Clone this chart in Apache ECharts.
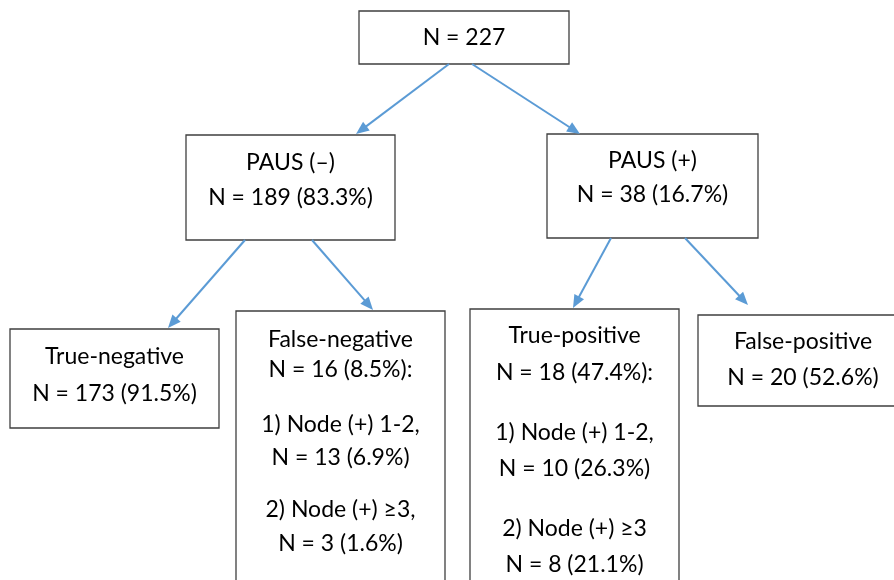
<!DOCTYPE html>
<html>
<head>
<meta charset="utf-8">
<script src="https://cdn.jsdelivr.net/npm/echarts@6/dist/echarts.min.js"></script>
<style>
html,body{margin:0;padding:0;background:#fff;}
#chart{width:894px;height:580px;}
</style>
</head>
<body>
<div id="chart"></div>
<script>
// ---- data (text content of each box) ----
const rootLines = ['N = 227'];
const pausNegLines = ['PAUS (–)', 'N = 189 (83.3%)'];
const pausPosLines = ['PAUS (+)', 'N = 38 (16.7%)'];
const trueNegLines = ['True-negative', 'N = 173 (91.5%)'];
const falseNegLines = ['False-negative', 'N = 16 (8.5%):', '1) Node (+) 1-2,', 'N = 13 (6.9%)', '2) Node (+) ≥3,', 'N = 3 (1.6%)'];
const truePosLines = ['True-positive', 'N = 18 (47.4%):', '1) Node (+) 1-2,', 'N = 10 (26.3%)', '2) Node (+) ≥3', 'N = 8 (21.1%)'];
const falsePosLines = ['False-positive', 'N = 20 (52.6%)'];
const boxTexts = [rootLines, pausNegLines, pausPosLines, trueNegLines, falseNegLines, truePosLines, falsePosLines];
// parent -> child links (box indices)
const links = [[0, 1], [0, 2], [1, 3], [1, 4], [2, 5], [2, 6]];

// ---- layout (diagram coordinates, separate from data) ----
const boxRects = [
  [359, 11, 569, 64],
  [186, 135, 395, 240],
  [547, 134, 758, 238],
  [10, 329, 219, 428],
  [236, 311, 445, 620],
  [470, 309, 679, 620],
  [698, 315, 908, 406]
];
const lineCenters = [
  [37],
  [162, 197],
  [160, 194],
  [356, 393],
  [338.5, 369, 424, 456.5, 509, 542.5],
  [335, 372, 431.5, 468, 528, 563.5],
  [341, 377]
];
const arrowPaths = [
  [449, 64, 356, 134],
  [472, 64, 580, 134],
  [245, 240, 168, 328],
  [312, 240, 373, 310],
  [611, 238, 573, 308],
  [685, 238, 748, 305]
];

const FONT = 'Lato';
const chart = echarts.init(document.getElementById('chart'), null, {renderer: 'canvas'});

const boxData = boxRects.map((r, i) => ({value: r.slice(), name: String(i)}));
const arrowData = links.map((l, i) => ({value: arrowPaths[i].slice(), name: l.join('-')}));

chart.setOption({
  backgroundColor: '#ffffff',
  animation: false,
  grid: {left: 0, right: 0, top: 0, bottom: 0},
  xAxis: {type: 'value', min: 0, max: 894, show: false},
  yAxis: {type: 'value', min: 0, max: 580, inverse: true, show: false},
  series: [
    {
      type: 'custom',
      coordinateSystem: 'cartesian2d',
      clip: false,
      data: boxData,
      encode: {x: [0, 2], y: [1, 3]},
      renderItem: function (params, api) {
        const i = params.dataIndex;
        const p0 = api.coord([api.value(0), api.value(1)]);
        const p1 = api.coord([api.value(2), api.value(3)]);
        const cx = (p0[0] + p1[0]) / 2;
        const children = [{
          type: 'rect',
          shape: {x: p0[0], y: p0[1], width: p1[0] - p0[0], height: p1[1] - p0[1]},
          style: {fill: '#ffffff', stroke: '#3f3f3f', lineWidth: 1.3}
        }];
        boxTexts[i].forEach((t, k) => {
          const cy = api.coord([0, lineCenters[i][k]])[1];
          children.push({
            type: 'text',
            x: cx, y: cy + 1,
            style: {
              text: t, fill: '#000000',
              font: '23px ' + FONT,
              align: 'center', verticalAlign: 'middle'
            }
          });
        });
        return {type: 'group', children: children};
      },
      z: 2
    },
    {
      type: 'custom',
      coordinateSystem: 'cartesian2d',
      clip: false,
      data: arrowData,
      encode: {x: [0, 2], y: [1, 3]},
      renderItem: function (params, api) {
        const a = api.coord([api.value(0), api.value(1)]);
        const b = api.coord([api.value(2), api.value(3)]);
        const dx = b[0] - a[0], dy = b[1] - a[1];
        const len = Math.sqrt(dx * dx + dy * dy);
        const ux = dx / len, uy = dy / len;
        const px = -uy, py = ux;
        const L = 13, W = 11;
        const bx = b[0] - ux * L, by = b[1] - uy * L;
        return {
          type: 'group',
          children: [
            {
              type: 'line',
              shape: {x1: a[0], y1: a[1], x2: bx + ux * 2, y2: by + uy * 2},
              style: {stroke: '#5B9BD5', lineWidth: 2}
            },
            {
              type: 'polygon',
              shape: {points: [[b[0], b[1]], [bx + px * W / 2, by + py * W / 2], [bx - px * W / 2, by - py * W / 2]]},
              style: {fill: '#5B9BD5'}
            }
          ]
        };
      },
      z: 3
    }
  ]
});
</script>
</body>
</html>
